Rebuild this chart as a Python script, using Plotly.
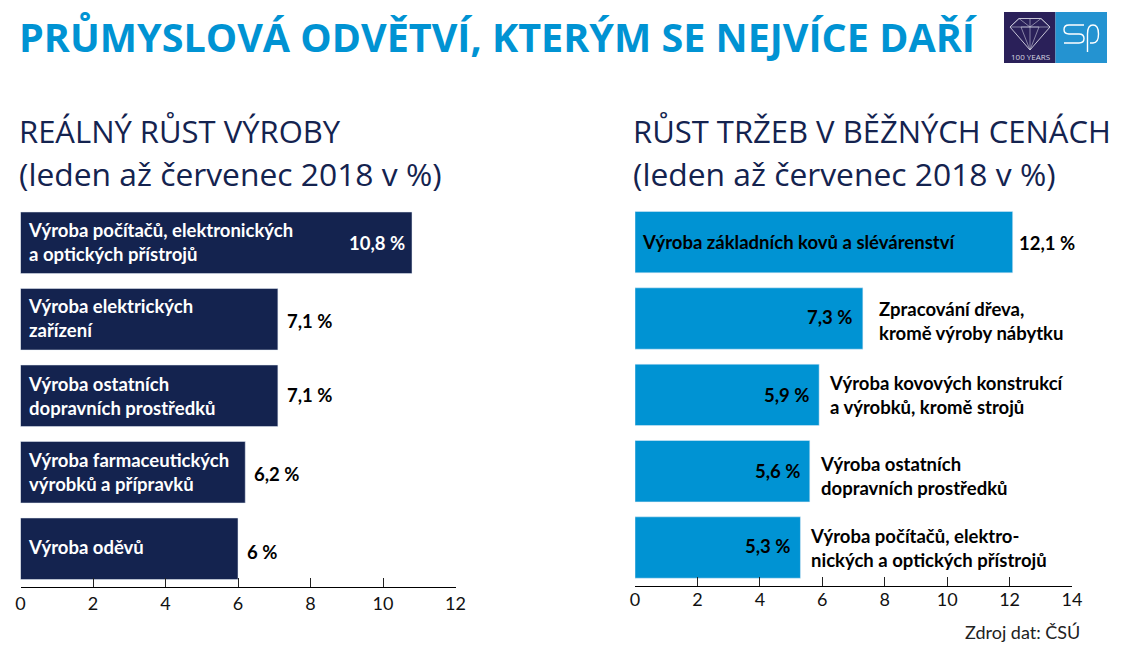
import plotly.graph_objects as go

W, H = 1127, 661

title = "PRŮMYSLOVÁ ODVĚTVÍ, KTERÝM SE NEJVÍCE DAŘÍ"
left_head = "REÁLNÝ RŮST VÝROBY"
right_head = "RŮST TRŽEB V BĚŽNÝCH CENÁCH"
sub_head = "(leden až červenec 2018 v %)"
source = "Zdroj dat: ČSÚ"

left_cats = ["Výroba počítačů, elektronických<br>a optických přístrojů",
             "Výroba elektrických<br>zařízení",
             "Výroba ostatních<br>dopravních prostředků",
             "Výroba farmaceutických<br>výrobků a přípravků",
             "Výroba oděvů"]
left_vals = [10.8, 7.1, 7.1, 6.2, 6]
left_ticks = [0, 2, 4, 6, 8, 10, 12]

right_cats = ["Výroba základních kovů a slévárenství",
              "Zpracování dřeva,<br>kromě výroby nábytku",
              "Výroba kovových konstrukcí<br>a výrobků, kromě strojů",
              "Výroba ostatních<br>dopravních prostředků",
              "Výroba počítačů, elektro-<br>nických a optických přístrojů"]
right_vals = [12.1, 7.3, 5.9, 5.6, 5.3]
right_ticks = [0, 2, 4, 6, 8, 10, 12, 14]

NAVY = "#14234f"
BLUE = "#0093d3"
LFONT = "Lato"
HFONT = "Open Sans"

# per-row vertical nudges of the text, in pixels (positive = up)
left_label_nudge = [1, 1, 0, 0, 2]
left_value_nudge = [0, -2, 1, -2, -3]
right_label_nudge = [0, -2, 0, -5, 0]
right_value_nudge = [-1, 2, 0, 0, 2]


def fmt(v):
    return f"{v:g}".replace(".", ",") + " %"


def px(x):
    return x / W


def py(y):
    return 1 - y / H


fig = go.Figure()
fig.add_trace(go.Bar(y=left_cats, x=left_vals, orientation="h", marker_color=NAVY,
                     xaxis="x", yaxis="y", hoverinfo="skip", showlegend=False))
fig.add_trace(go.Bar(y=right_cats, x=right_vals, orientation="h", marker_color=BLUE,
                     xaxis="x2", yaxis="y2", hoverinfo="skip", showlegend=False))

ann = []
lab = dict(size=18.5, family=LFONT, color="#000000", weight=700)

for i, (c, v) in enumerate(zip(left_cats, left_vals)):
    ann.append(dict(x=0, y=c, xref="x", yref="y", text=c, showarrow=False, xanchor="left",
                    align="left", xshift=5, yshift=left_label_nudge[i],
                    font=dict(lab, color="#ffffff")))
    inside = i == 0
    ann.append(dict(x=v, y=c, xref="x", yref="y", text=fmt(v), showarrow=False,
                    xanchor="right" if inside else "left",
                    xshift=-5 if inside else 7, yshift=left_value_nudge[i],
                    font=dict(lab, color="#ffffff" if inside else "#000000")))

for i, (c, v) in enumerate(zip(right_cats, right_vals)):
    if i == 0:
        ann.append(dict(x=0, y=c, xref="x2", yref="y2", text=c, showarrow=False, xanchor="left",
                        align="left", xshift=5, yshift=right_label_nudge[i], font=lab))
        ann.append(dict(x=v, y=c, xref="x2", yref="y2", text=fmt(v), showarrow=False,
                        xanchor="left", xshift=4, yshift=right_value_nudge[i], font=lab))
    else:
        ann.append(dict(x=v, y=c, xref="x2", yref="y2", text=fmt(v), showarrow=False,
                        xanchor="right", xshift=-9 if i == 1 else -8,
                        yshift=right_value_nudge[i], font=lab))
        ann.append(dict(x=v, y=c, xref="x2", yref="y2", text=c, showarrow=False, xanchor="left",
                        align="left", xshift=8 if i > 1 else 14,
                        yshift=right_label_nudge[i], font=lab))

ann.append(dict(x=px(17), y=py(37), xref="paper", yref="paper", text=f"<b>{title}</b>",
                showarrow=False, xanchor="left", yanchor="middle", align="left",
                font=dict(family=HFONT, size=39.5, color="#0093d3")))


def head(x, y, text, size):
    return dict(x=px(x), y=py(y), xref="paper", yref="paper", text=text,
                showarrow=False, xanchor="left", yanchor="middle", align="left",
                font=dict(family=HFONT, size=size, color="#14234f"))


ann.append(head(17, 131, left_head, 31))
ann.append(head(17, 173, sub_head, 31.8))
ann.append(head(631, 131, right_head, 31))
ann.append(head(631, 173, sub_head, 31.8))
ann.append(dict(x=px(1082), y=py(632), xref="paper", yref="paper", text=source,
                showarrow=False, xanchor="right", yanchor="middle",
                font=dict(family=LFONT, size=18, color="#222222")))
ann.append(dict(x=px(1030), y=py(57), xref="paper", yref="paper", text="100 YEARS",
                showarrow=False, xanchor="center", yanchor="middle",
                font=dict(family="Open Sans", size=8, color="#d5d5e0")))


def pt(x, y):
    return f"{px(x):.5f},{py(y):.5f}"


def pathxy(pts):
    return "M " + " L ".join(pt(x, y) for x, y in pts) + " Z"


def logo_s():
    return (f"M {pt(1084, 25)} L {pt(1069, 25)} Q {pt(1064, 25)} {pt(1064, 29.5)} "
            f"Q {pt(1064, 34)} {pt(1069, 34)} L {pt(1079, 34)} Q {pt(1084, 34)} {pt(1084, 38.5)} "
            f"Q {pt(1084, 43)} {pt(1079, 43)} L {pt(1064, 43)}")


def logo_p():
    return (f"M {pt(1087.5, 52)} L {pt(1087.5, 34)} Q {pt(1087.5, 25)} {pt(1093, 25)} "
            f"Q {pt(1098.5, 25)} {pt(1098.5, 34)} Q {pt(1098.5, 43)} {pt(1093, 43)} "
            f"L {pt(1090, 43)}")


white_line = dict(color="#ffffff", width=1.4)
shapes = [
    dict(type="rect", xref="paper", yref="paper", x0=px(1004), x1=px(1055.5), y0=py(63), y1=py(12),
         fillcolor="#2a2059", line_width=0, layer="below"),
    dict(type="rect", xref="paper", yref="paper", x0=px(1055.5), x1=px(1107), y0=py(63), y1=py(12),
         fillcolor="#2493d1", line_width=0, layer="below"),
    dict(type="path", xref="paper", yref="paper", line=dict(color="#d8d8e4", width=0.9),
         path=pathxy([(1010, 27), (1019, 18.5), (1041, 18.5), (1050, 27), (1030, 50)])),
    dict(type="path", xref="paper", yref="paper", line=dict(color="#c8c8d8", width=0.6),
         path=pathxy([(1010, 27), (1050, 27), (1041, 18.5), (1030, 27), (1019, 18.5)])),
    dict(type="path", xref="paper", yref="paper", line=dict(color="#c8c8d8", width=0.6),
         path=pathxy([(1021, 27), (1030, 50), (1039, 27)])),
    dict(type="line", xref="paper", yref="paper", x0=px(1030), x1=px(1030), y0=py(18.5), y1=py(50),
         line=dict(color="#c8c8d8", width=0.6)),
    dict(type="path", xref="paper", yref="paper", line=white_line, path=logo_s()),
    dict(type="path", xref="paper", yref="paper", line=white_line, path=logo_p()),
]

axis_common = dict(showline=True, linecolor="#000000", linewidth=1.2, ticks="inside", ticklen=9,
                   tickcolor="#222222", tickwidth=1.2, showgrid=False, zeroline=False,
                   tickfont=dict(family=LFONT, size=18, color="#111111"))

fig.update_layout(
    width=W, height=H, margin=dict(l=0, r=0, t=0, b=0, autoexpand=False),
    paper_bgcolor="#ffffff", plot_bgcolor="#ffffff",
    barmode="overlay", bargap=0.196,
    annotations=ann, shapes=shapes,
    xaxis=dict(axis_common, domain=[px(20.5), px(455.5)], range=[0, 12], tickmode="array",
               tickvals=left_ticks, anchor="y"),
    yaxis=dict(domain=[py(587), py(204.5)], autorange="reversed", visible=False, anchor="x"),
    xaxis2=dict(axis_common, domain=[px(635), px(1072)], range=[0, 14], tickmode="array",
                tickvals=right_ticks, anchor="y2", ticklabelstandoff=-2),
    yaxis2=dict(domain=[py(585.7), py(204)], autorange="reversed", visible=False, anchor="x2"),
)

fig.write_html("out.html", config={"displayModeBar": False},
               post_script="document.body.style.margin='0';document.body.style.overflow='hidden';")
